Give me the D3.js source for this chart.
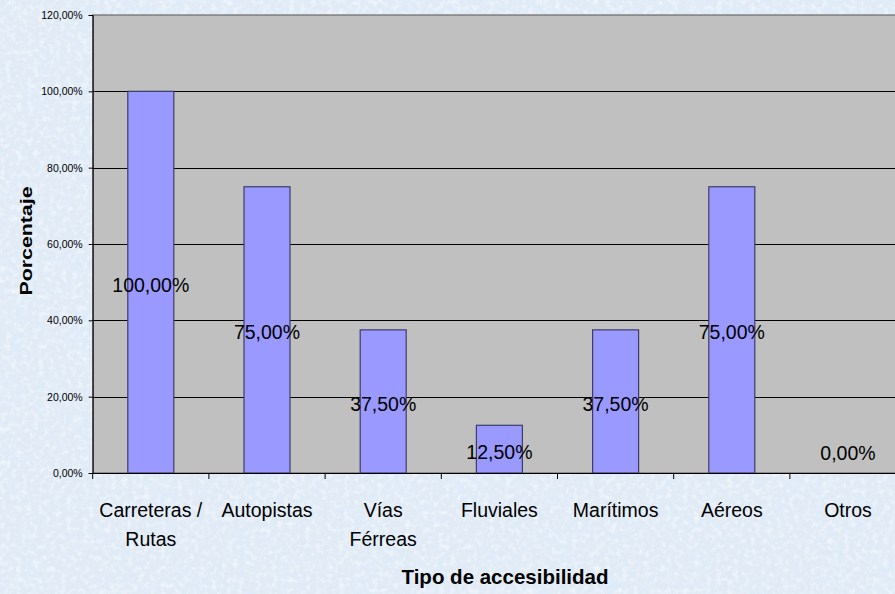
<!DOCTYPE html>
<html><head><meta charset="utf-8">
<script src="https://cdn.jsdelivr.net/npm/d3@7"></script>
<style>html,body{margin:0;padding:0;overflow:hidden;background:#dbe8f5}</style>
</head><body>
<svg id="c" width="895" height="594"></svg>
<script>
const categories = ["Carreteras / Rutas","Autopistas","Vías Férreas","Fluviales","Marítimos","Aéreos","Otros"];
const values = [100, 75, 37.5, 12.5, 37.5, 75, 0];
const yTicks = [0, 20, 40, 60, 80, 100, 120];
const yTitle = "Porcentaje";
const xTitle = "Tipo de accesibilidad";

const W = 895, H = 594;
const m = {left: 92.7, top: 15, bottom: 473};
const step = 116.2;
const svg = d3.select("#c");
const FONT = "'Liberation Sans', Arial, sans-serif";

// background texture
const defs = svg.append("defs");
const f = defs.append("filter").attr("id","tex").attr("x",0).attr("y",0).attr("width","100%").attr("height","100%");
f.append("feTurbulence").attr("type","fractalNoise").attr("baseFrequency","0.18").attr("numOctaves",3).attr("seed",4).attr("result","n");
f.append("feColorMatrix").attr("in","n").attr("type","matrix")
 .attr("values","0 0 0 0 1  0 0 0 0 1  0 0 0 0 1  0 0 0 1.8 -0.8");
const f2 = defs.append("filter").attr("id","tex2").attr("x",0).attr("y",0).attr("width","100%").attr("height","100%");
f2.append("feTurbulence").attr("type","fractalNoise").attr("baseFrequency","0.04").attr("numOctaves",2).attr("seed",9).attr("result","n");
f2.append("feColorMatrix").attr("in","n").attr("type","matrix")
 .attr("values","0 0 0 0 0.70  0 0 0 0 0.83  0 0 0 0 0.96  0 0 0 1.5 -0.6");
svg.append("rect").attr("width",W).attr("height",H).attr("fill","#e1ebf6");
svg.append("rect").attr("width",W).attr("height",H).attr("filter","url(#tex2)").attr("opacity",0.55);
svg.append("rect").attr("width",W).attr("height",H).attr("filter","url(#tex)").attr("opacity",0.7);

const x = d3.scaleBand().domain(categories).range([m.left, m.left + step*categories.length]).paddingInner(0).paddingOuter(0);
const y = d3.scaleLinear().domain([0,120]).range([m.bottom, m.top]);
const plotRight = m.left + step*categories.length;

// plot area
svg.append("rect").attr("x",m.left).attr("y",m.top).attr("width",plotRight-m.left).attr("height",m.bottom-m.top)
  .attr("fill","#c0c0c0").attr("stroke","#6a6a6a").attr("stroke-width",1.2);

// gridlines
svg.append("g").selectAll("line").data(yTicks.filter(d=>d>0 && d<120)).join("line")
  .attr("x1",m.left).attr("x2",plotRight).attr("y1",d=>Math.round(y(d))+0.5).attr("y2",d=>Math.round(y(d))+0.5)
  .attr("stroke","#000").attr("stroke-width",1);

// bars
const bw = 46;
svg.append("g").selectAll("rect").data(values).join("rect")
  .attr("x",(d,i)=>x(categories[i]) + x.bandwidth()/2 - bw/2)
  .attr("y",d=>y(d)).attr("width",bw).attr("height",d=>y(0)-y(d))
  .attr("fill","#9999ff").attr("stroke","#3c3c6a").attr("stroke-width",1.2)
  .style("display",d=>d>0?null:"none");

// y axis
const fmtLocale = d3.formatLocale({decimal:",",thousands:".",grouping:[3],currency:["","€"]});
const pf = v => fmtLocale.format(".2f")(v) + "%";
const yAxis = d3.axisLeft(y).tickValues(yTicks).tickSize(4).tickPadding(6).tickFormat(pf);
const gy = svg.append("g").attr("transform",`translate(${m.left},0)`).call(yAxis);
gy.select(".domain").attr("stroke","#000");
gy.selectAll(".tick line").attr("stroke","#000");
gy.selectAll("text").attr("font-family",FONT).attr("font-size","10.5px").attr("fill","#000");

// x axis
const xAxis = d3.axisBottom(x).tickSize(0).tickFormat("");
const gx = svg.append("g").attr("transform",`translate(0,${m.bottom})`).call(xAxis);
gx.select(".domain").attr("stroke","#000").attr("stroke-width",1.2);
gx.selectAll(".tick").remove();
const bounds = categories.map(c=>x(c)).concat([plotRight]);
gx.selectAll("line.sep").data(bounds).join("line").attr("class","sep")
  .attr("x1",d=>d).attr("x2",d=>d).attr("y1",0).attr("y2",6).attr("stroke","#000");

// category labels
const lab = svg.append("g").attr("font-family",FONT).attr("font-size","19.5px").attr("fill","#000").attr("text-anchor","middle");
categories.forEach((c,i)=>{
  const t = lab.append("text").attr("x", x(c)+x.bandwidth()/2).attr("y",517);
  const words = c.split(" ");
  let lines = [], cur = "";
  const probe = lab.append("text").attr("visibility","hidden");
  words.forEach(w=>{
    const test = cur ? cur + " " + w : w;
    probe.text(test);
    if (cur && probe.node().getComputedTextLength() > 106) { lines.push(cur); cur = w; } else cur = test;
  });
  lines.push(cur);
  probe.remove();
  lines.forEach((l,k)=>t.append("tspan").attr("x",x(c)+x.bandwidth()/2).attr("dy",k?29:0).text(l));
});

// data labels
svg.append("g").attr("font-family",FONT).attr("font-size","19.5px").attr("fill","#000").attr("text-anchor","middle")
  .selectAll("text").data(values).join("text")
  .attr("x",(d,i)=>x(categories[i]) + x.bandwidth()/2)
  .attr("y",d=> d>0 ? (y(d)+y(0))/2 + 9.5 : y(0) - 13)
  .text(d=>pf(d));

// axis titles
svg.append("text").attr("x",505).attr("y",584).attr("text-anchor","middle")
  .attr("font-family",FONT).attr("font-weight","bold").attr("font-size","20.5px").text(xTitle);
svg.append("text").attr("transform","translate(31.5,241) rotate(-90)").attr("text-anchor","middle")
  .attr("font-family",FONT).attr("font-weight","bold").attr("font-size","17px")
  .attr("textLength",109).attr("lengthAdjust","spacingAndGlyphs").text(yTitle);
</script>
</body></html>
